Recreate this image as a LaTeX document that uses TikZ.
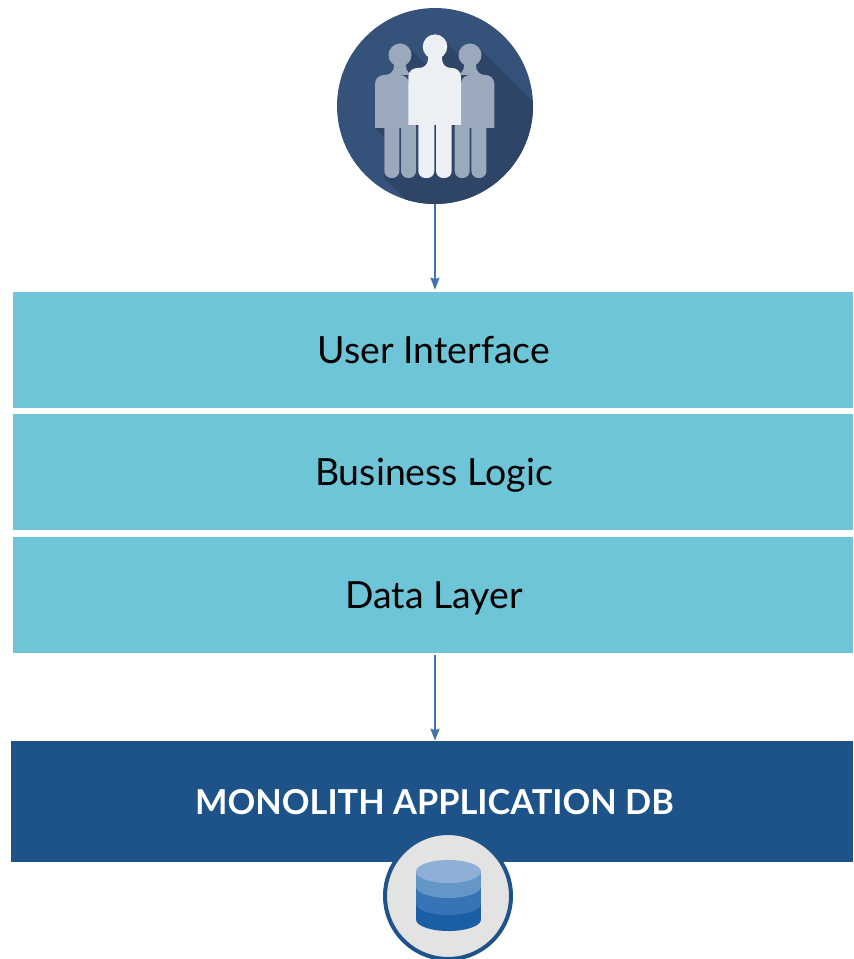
\documentclass[tikz,border=0pt]{standalone}
\usepackage{fontspec}
\setmainfont{Lato}
\usepackage{xcolor}
\usetikzlibrary{arrows.meta, positioning}
\definecolor{layerblue}{HTML}{6EC5D7}
\definecolor{dbblue}{HTML}{1D5388}
\definecolor{arrowblue}{HTML}{4472B0}
\definecolor{userblue}{HTML}{34527A}
\definecolor{shadowblue}{HTML}{2E4567}
\definecolor{sidegray}{HTML}{9BA9BD}
\definecolor{frontgray}{HTML}{ECEFF4}
\begin{document}
\begin{tikzpicture}[
        x=0.02cm, y=-0.02cm,
        layer/.style={rectangle, fill=layerblue, text=black, minimum width=16.8cm, minimum height=2.32cm, inner sep=0pt, text height=0.6cm, text depth=0.07cm, execute at begin node=\hspace*{0.04cm}, font=\fontsize{21.3}{24}\selectfont},
        dbbox/.style={rectangle, fill=dbblue, text=white, minimum width=16.84cm, minimum height=2.42cm, inner sep=0pt, text height=0.58cm, text depth=0.06cm, execute at begin node=\hspace*{0.1cm}, font=\fontsize{19.55}{24}\selectfont\bfseries},
        usercircle/.style={circle, fill=userblue, minimum size=3.92cm, inner sep=0pt},
        dbcircle/.style={circle, fill=black!11, draw=dbblue, line width=0.08cm, minimum size=2.52cm, inner sep=0pt},
        arrow/.style={-{Stealth[length=0.24cm,width=0.18cm,inset=0.03cm]}, arrowblue, line width=1pt}
    ]
        \useasboundingbox (0,0) rectangle (853,959);
        \clip (0,0) rectangle (853,959);
        % user icon
        \node[usercircle] (U) at (435,106) {};
        \begin{scope}
            \clip (435,106) circle[radius=98];
            \fill[shadowblue] (447,43) -- (463,59) -- (478,47) -- (560,129) -- (560,230) -- (436,230) -- (384,178) -- (384,137) -- (375,128) -- (400,60) -- (408,47) -- (424,63) -- (428,60) -- (428,45) -- cycle;
        \end{scope}
        \foreach \cx/\bx/\ex/\lx in {400/375/409/384.3, 470/461/494.3/454.7} {
            \fill[sidegray] (\cx,55) circle[radius=11.5];
            \fill[sidegray] (\cx-6,60) [rounded corners=5pt] -- (\cx-6,75) -- (\bx,75) [sharp corners] -- (\bx,128) -- (\ex,128) [rounded corners=5pt] -- (\ex,75) -- (\cx+6,75) [sharp corners] -- (\cx+6,60) -- cycle;
            \fill[sidegray, rounded corners=4pt] (\lx,120) -- (\lx,178) -- (\lx+15,178) -- (\lx+15,120) -- cycle;
            \fill[sidegray, rounded corners=4pt] (\lx+16.7,120) -- (\lx+16.7,178) -- (\lx+31.7,178) -- (\lx+31.7,120) -- cycle;
        }
        \fill[frontgray] (435,46.7) circle[radius=12.3];
        \fill[frontgray] (428,50) [rounded corners=5pt] -- (428,68) -- (408.3,68) [sharp corners] -- (408.3,125) -- (461,125) [rounded corners=5pt] -- (461,68) -- (442,68) [sharp corners] -- (442,50) -- cycle;
        \fill[frontgray, rounded corners=4pt] (418.3,115) -- (418.3,178) -- (434.3,178) -- (434.3,115) -- cycle;
        \fill[frontgray, rounded corners=4pt] (436,115) -- (436,178) -- (451.7,178) -- (451.7,115) -- cycle;
        % layers
        \node[layer] (UI) at (433,350) {User Interface};
        \node[layer] (BL) at (433,472) {Business Logic};
        \node[layer] (DL) at (433,595) {Data Layer};
        \node[dbbox] (DB) at (432,801.5) {MONOLITH APPLICATION DB};
        \coordinate (UIin) at (U.south |- UI.north);
        \coordinate (DLout) at (U.south |- DL.south);
        \coordinate (DBin) at (U.south |- DB.north);
        \draw[arrow, shorten >=0.04cm] (U.south) -- (UIin);
        \draw[arrow, shorten <=0.04cm] (DLout) -- (DBin);
        % db icon
        \node[dbcircle] (C) at (448,896) {};
        \foreach \cy/\col in {919.5/1A5EA3, 903.5/3674B5, 886.5/6497C7, 871.5/8FB0D6} {
            \definecolor{tmpcol}{HTML}{\col}
            \fill[tmpcol] (416,871.5) rectangle (481,\cy);
            \fill[tmpcol] (448.5,\cy) ellipse[x radius=32.5, y radius=11.5];
        }
    \end{tikzpicture}
\end{document}
